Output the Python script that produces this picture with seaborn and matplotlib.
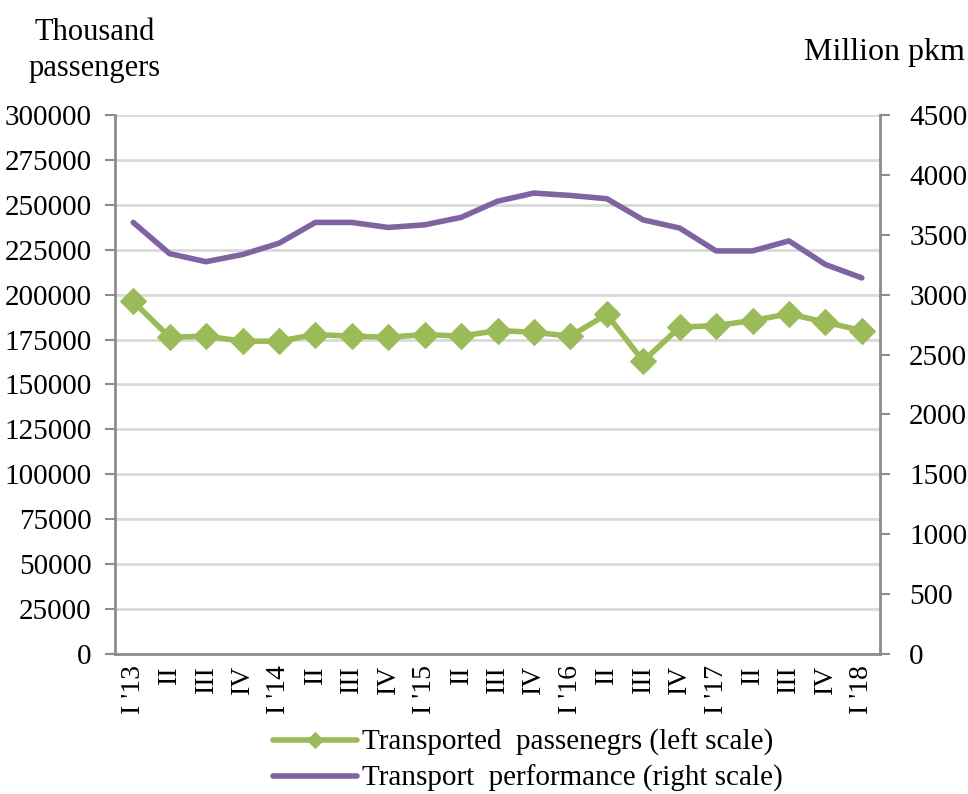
import numpy as np
import pandas as pd
import seaborn as sns
import matplotlib.pyplot as plt
from matplotlib.ticker import MultipleLocator, FixedLocator

quarters = ["I '13", "II", "III", "IV", "I '14", "II", "III", "IV", "I '15", "II", "III",
            "IV", "I '16", "II", "III", "IV", "I '17", "II", "III", "IV", "I '18"]
passengers = [196200, 176300, 176900, 174100, 174100, 177800, 176900, 176300, 177800, 176900,
              180000, 179100, 176900, 189000, 163000, 181900, 182800, 185600, 189300, 184700, 180000]
performance = [3603, 3342, 3275, 3335, 3429, 3603, 3603, 3561, 3583, 3645, 3780,
               3848, 3828, 3801, 3624, 3556, 3365, 3365, 3449, 3252, 3140]

green = "#9BBB59"
purple = "#8064A2"
spine_c = "#8c8c8c"

df = pd.DataFrame({"pos": np.arange(len(quarters)), "passengers": passengers,
                   "performance": performance})

sns.set_theme(style="white")
plt.rcParams['font.family'] = ['Liberation Serif', 'DejaVu Serif']
plt.rcParams['text.color'] = 'black'
plt.rcParams['xtick.color'] = 'black'
plt.rcParams['ytick.color'] = 'black'

fig = plt.figure(figsize=(9.68, 7.94), dpi=100)
ax = fig.add_axes([0.1188, 0.1763, 0.7903, 0.6789])
ax2 = ax.twinx()

sns.lineplot(data=df, x="pos", y="passengers", ax=ax, color=green, lw=4, marker="D",
             markersize=13, markeredgecolor=green, label="Transported  passenegrs (left scale)",
             legend=False, zorder=3)
sns.lineplot(data=df, x="pos", y="performance", ax=ax2, color=purple, lw=4,
             label="Transport  performance (right scale)", legend=False)

ax.set_xlim(-0.5, len(quarters) - 0.5)
ax.set_ylim(0, 300000)
ax2.set_ylim(0, 4500)
ax.yaxis.set_major_locator(MultipleLocator(25000))
ax2.yaxis.set_major_locator(MultipleLocator(500))
ax.grid(axis="y", color="#d9d9d9", lw=2)
ax.set_axisbelow(True)

ax.set_xticks(np.arange(len(quarters)))
ax.set_xticklabels(quarters, rotation=90, fontsize=20)
ax.tick_params(axis="x", which="major", length=0, pad=8)
ax.xaxis.set_minor_locator(FixedLocator(np.arange(-0.5, len(quarters), 1)))
ax.tick_params(axis="x", which="minor", length=7, width=1.5, color=spine_c, direction="out")
ax.tick_params(axis="y", length=7, width=1.5, color=spine_c, labelcolor="black",
               direction="out", labelsize=21, pad=10)
ax2.tick_params(axis="y", length=7, width=1.5, color=spine_c, labelcolor="black",
                direction="out", labelsize=21, pad=14)
for a in (ax, ax2):
    a.set_xlabel("")
    a.set_ylabel("")
    for s in a.spines.values():
        s.set_visible(False)
ax.spines["left"].set_visible(True)
ax.spines["bottom"].set_visible(True)
ax2.spines["right"].set_visible(True)
for s in (ax.spines["left"], ax.spines["bottom"], ax2.spines["right"]):
    s.set_color(spine_c)
    s.set_linewidth(2)

fig.text(0.098, 0.895, "Thousand\npassengers", ha="center", va="bottom", fontsize=22,
         linespacing=1.35)
fig.text(0.997, 0.915, "Million pkm", ha="right", va="bottom", fontsize=23)

h1, l1 = ax.get_legend_handles_labels()
h2, l2 = ax2.get_legend_handles_labels()
leg = fig.legend(h1 + h2, l1 + l2, loc="upper center", bbox_to_anchor=(0.545, 0.115),
                 bbox_transform=fig.transFigure, frameon=False, fontsize=21, handlelength=2.9,
                 handletextpad=0.15, labelspacing=0.3)
for t in leg.get_texts():
    t.set_color("black")
leg.legend_handles[0].set_markersize(8)

fig.savefig("out.png", dpi=100)
